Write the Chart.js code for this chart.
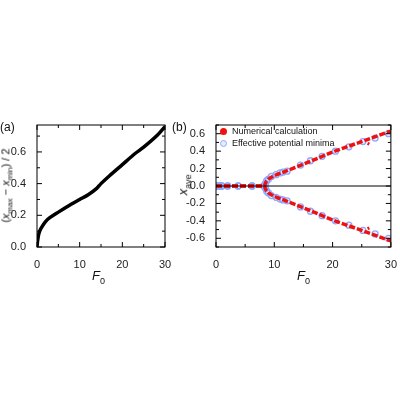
<!DOCTYPE html><html><head><script src="https://cdn.jsdelivr.net/npm/chart.js@4"></script>
<style>body{margin:0;width:400px;height:400px;position:relative;font-family:"Liberation Sans",Arial,sans-serif;background:#fff}
.c{position:absolute}.t{position:absolute;font-size:12px;color:#111;white-space:nowrap}
.dot{display:inline-block;width:7px;height:7px;border-radius:50%;margin-right:5px;vertical-align:-1px}</style></head><body>
<div class="c" style="left:0;top:110px;width:175px;height:180px"><canvas id="a"></canvas></div>
<div class="c" style="left:170px;top:110px;width:230px;height:180px"><canvas id="b"></canvas></div>
<div class="t" style="left:0;top:120px">(a)</div>
<div class="t" style="left:172px;top:120px">(b)</div>
<div class="t" style="left:220px;top:126px;font-size:9px"><span class="dot" style="background:#ee1111"></span>Numerical calculation</div>
<div class="t" style="left:220px;top:138px;font-size:9px"><span class="dot" style="background:rgba(170,190,255,0.3);border:1.5px solid #8fa8ff;width:5px;height:5px"></span>Effective potential minima</div>
<div class="t" style="left:92px;top:268px;font-style:italic;font-size:13px">F<sub style="font-style:normal;font-size:9px">0</sub></div>
<div class="t" style="left:297px;top:268px;font-style:italic;font-size:13px">F<sub style="font-style:normal;font-size:9px">0</sub></div>
<div class="t" style="left:-53px;top:178px;width:120px;text-align:center;transform:rotate(-90deg);font-size:11px">(<i>x</i><sub style="font-size:8px">max</sub> − <i>x</i><sub style="font-size:8px">min</sub>) / 2</div>
<div class="t" style="left:164px;top:176px;width:40px;text-align:center;transform:rotate(-90deg);font-size:13px"><i>x</i><sub style="font-size:9px">ave</sub></div>
<script>
const ampF=[0,0.1,0.2,0.5,1,2,3,5,8,10,12,14,15,17,20,23,25,28,30];
const ampV=[0,0.03,0.05,0.09,0.12,0.16,0.185,0.22,0.27,0.30,0.33,0.37,0.40,0.45,0.52,0.59,0.63,0.70,0.76];
const numF=[0,2,4,6,8,8.3,8.6,9,10,12,15,20,25,30];
const numUp=[0,0,0,0,0,0,0.05,0.08,0.12,0.17,0.25,0.39,0.51,0.63];
const devF=[26,26.3];const devUp=[0.49,0.48];
const effF=[0,0.2,0.5,0.8,1,2,3.8,6.2,8.2,8.5,8.7,9,9.5,10.3,11,11.5,12.2,14.5,16.2,18.2,20.5,22.8,25.2,27.3,29.6];
const effUp=[0,0,0,0,0,0,0,0,0,0.03,0.06,0.08,0.11,0.13,0.15,0.16,0.17,0.24,0.29,0.34,0.40,0.45,0.51,0.55,0.60];
const leftTicks=[0,0.2,0.4,0.6];
const rightTicks=[-0.6,-0.4,-0.2,0,0.2,0.4,0.6];
const xTicks=[0,10,20,30];
const xy=(a,b,s=1)=>a.map((v,i)=>({x:v,y:s*b[i]}));
Chart.defaults.font.family='"Liberation Sans",Arial,sans-serif';Chart.defaults.font.size=11;Chart.defaults.color='#222';
const inTicks={id:'inTicks',afterDraw(c){const ctx=c.ctx,a=c.chartArea;ctx.save();ctx.strokeStyle='#000';ctx.lineWidth=1;
 const xs=c.scales.x,ys=c.scales.y;
 for(let k=0;k<=6;k++){const v=k*5,p=xs.getPixelForValue(v),L=k%2===0?5:3;
  ctx.beginPath();ctx.moveTo(p,a.bottom);ctx.lineTo(p,a.bottom-L);ctx.moveTo(p,a.top);ctx.lineTo(p,a.top+L);ctx.stroke();}
 for(let k=-7;k<=7;k++){const v=k*0.1;if(v<ys.min-1e-9||v>ys.max+1e-9)continue;const p=ys.getPixelForValue(v),L=k%2===0?5:3;
  ctx.beginPath();ctx.moveTo(a.left,p);ctx.lineTo(a.left+L,p);ctx.moveTo(a.right,p);ctx.lineTo(a.right-L,p);ctx.stroke();}
 ctx.strokeRect(a.left,a.top,a.right-a.left,a.bottom-a.top);ctx.restore();}};
function sc(yw,ymin,ymax,yt){return{x:{type:'linear',min:0,max:30,afterFit(s){s.height=43},afterBuildTicks(s){s.ticks=xTicks.map(v=>({value:v}))},grid:{display:false},border:{display:false},ticks:{autoSkip:false,maxRotation:0}},
 y:{min:ymin,max:ymax,afterFit(s){s.width=yw},afterBuildTicks(s){s.ticks=yt.map(v=>({value:v}))},grid:{display:false},border:{display:false},ticks:{autoSkip:false,callback:v=>v.toFixed(1)}}}}
new Chart(document.getElementById('a'),{type:'scatter',plugins:[inTicks],data:{datasets:[{data:xy(ampF,ampV),showLine:true,borderColor:'#000',borderWidth:3.5,pointRadius:0,tension:0.3}]},
 options:{responsive:true,maintainAspectRatio:false,animation:false,layout:{padding:{top:15,right:10}},plugins:{legend:{display:false},tooltip:{enabled:false}},
 scales:sc(37,0,0.77,leftTicks)}});
const blue={pointRadius:3,borderColor:'#8fa8ff',backgroundColor:'rgba(180,200,255,0.25)',borderWidth:1.3};
new Chart(document.getElementById('b'),{type:'scatter',plugins:[inTicks],data:{datasets:[
 {data:[{x:0,y:0},{x:30,y:0}],showLine:true,borderColor:'#000',borderWidth:1,pointRadius:0},
 {data:xy(numF,numUp),showLine:true,borderColor:'#ee1111',borderWidth:3.5,borderDash:[6,2],pointRadius:0},
 {data:xy(numF,numUp,-1),showLine:true,borderColor:'#ee1111',borderWidth:3.5,borderDash:[6,2],pointRadius:0},
 {data:xy(devF,devUp),showLine:true,borderColor:'#ee1111',borderWidth:3,pointRadius:0},
 {data:xy(devF,devUp,-1),showLine:true,borderColor:'#ee1111',borderWidth:3,pointRadius:0},
 {data:xy(effF,effUp),...blue},{data:xy(effF,effUp,-1),...blue}]},
 options:{responsive:true,maintainAspectRatio:false,animation:false,layout:{padding:{top:15,right:5}},
 plugins:{tooltip:{enabled:false},legend:{display:false}},scales:sc(46,-0.7,0.7,rightTicks)}});
</script></body></html>
